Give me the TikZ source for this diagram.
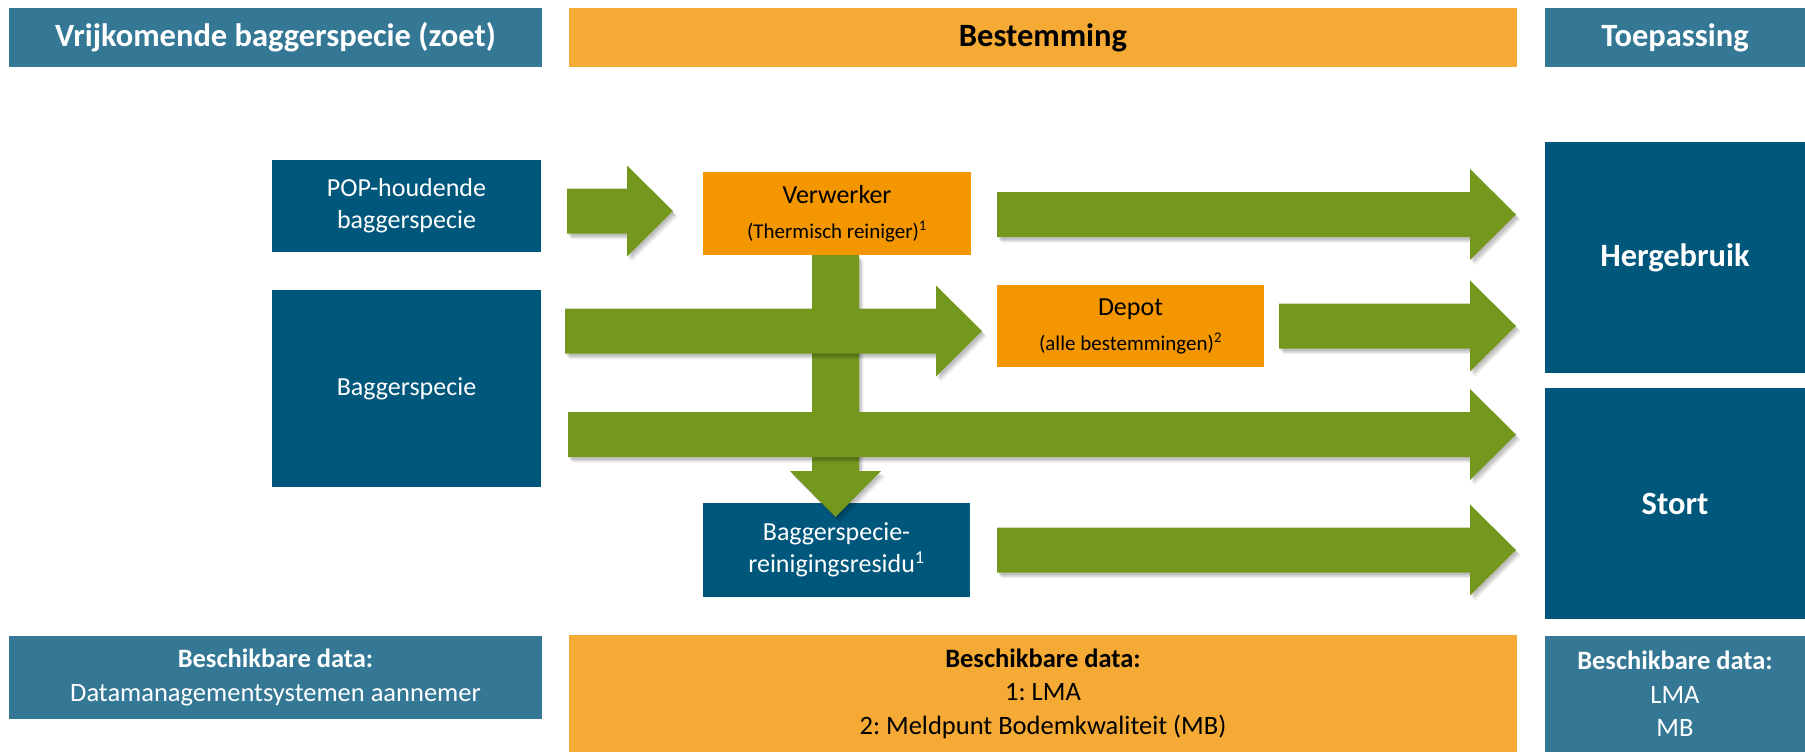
\documentclass[tikz,border=0pt]{standalone}
\usepackage{fontspec}
\setmainfont{Carlito}
\usetikzlibrary{calc,shadows}
\definecolor{hdrblue}{HTML}{347896}
\definecolor{boxblue}{HTML}{00577C}
\definecolor{hdrorange}{HTML}{F4AA34}
\definecolor{boxorange}{HTML}{F39600}
\definecolor{arrgreen}{HTML}{74981E}
\tikzset{
  base/.style={rectangle, inner sep=0pt, align=center},
  hdrblue box/.style={base, fill=hdrblue, text=white},
  hdrorange box/.style={base, fill=hdrorange, text=black},
  blue box/.style={base, fill=boxblue, text=white},
  orange box/.style={base, fill=boxorange, text=black},
  headfont/.style={font=\fontsize{32.5}{38}\selectfont\bfseries},
  bodyfont/.style={font=\fontsize{26}{32}\selectfont},
  datafont/.style={font=\fontsize{26.5}{33.5}\selectfont},
  smallfont/.style={font=\fontsize{21}{35}\selectfont},
  blockarrow/.style={fill=arrgreen,
    drop shadow={shadow xshift=1.5pt, shadow yshift=-2.5pt, opacity=0.10, fill=black},
    drop shadow={shadow xshift=3pt, shadow yshift=-4pt, opacity=0.10, fill=black},
    drop shadow={shadow xshift=4.5pt, shadow yshift=-5.5pt, opacity=0.07, fill=black}},
}
\newcommand\rightblock[2]{%
  \path[blockarrow] let \p1=(#1), \p2=(#2) in
    (\x1,\y1+22.5pt) -- (\x2-46pt,\y1+22.5pt) -- (\x2-46pt,\y1+45.5pt) -- (\x2,\y1)
    -- (\x2-46pt,\y1-45.5pt) -- (\x2-46pt,\y1-22.5pt) -- (\x1,\y1-22.5pt) -- cycle;}
\newcommand\downblock[2]{%
  \path[blockarrow] let \p1=(#1), \p2=(#2) in
    (\x1-23.5pt,\y1) -- (\x1-23.5pt,\y2+46pt) -- (\x1-45.5pt,\y2+46pt) -- (\x1,\y2)
    -- (\x1+45.5pt,\y2+46pt) -- (\x1+23.5pt,\y2+46pt) -- (\x1+23.5pt,\y1) -- cycle;}
\begin{document}
\frenchspacing
\begin{tikzpicture}[x=1pt, y=-1pt]
\useasboundingbox (0,0) rectangle (1805,752);
% headers
\node[hdrblue box, headfont, minimum width=533pt, minimum height=59pt] (hdrL) at (275.5,37.5) {Vrijkomende baggerspecie (zoet)};
\node[hdrorange box, headfont, minimum width=948pt, minimum height=59pt] (hdrM) at (1043,37.5) {Bestemming};
\node[hdrblue box, headfont, minimum width=260pt, minimum height=59pt] (hdrR) at (1675,37.5) {Toepassing};
% sources
\node[blue box, bodyfont, minimum width=269pt, minimum height=92pt] (pop) at (406.5,206) {POP-houdende\\baggerspecie};
\node[blue box, bodyfont, minimum width=269pt, minimum height=197pt] (bag) at (406.5,388.5) {Baggerspecie};
% destinations
\node[orange box, smallfont, minimum width=268pt, minimum height=83pt] (verw) at (837,213.5) {{\fontsize{26}{35}\selectfont Verwerker}\\(Thermisch reiniger)\textsuperscript{1}};
\node[orange box, smallfont, minimum width=267pt, minimum height=82pt] (depot) at (1130.5,326) {{\fontsize{26}{35}\selectfont Depot}\\(alle bestemmingen)\textsuperscript{2}};
\node[blue box, bodyfont, minimum width=267pt, minimum height=94pt] (residu) at (836.5,550) {Baggerspecie-\\reinigingsresidu\textsuperscript{1}};
% applications
\node[blue box, headfont, minimum width=260pt, minimum height=231pt] (herg) at (1675,257.5) {Hergebruik};
\node[blue box, headfont, minimum width=260pt, minimum height=231pt] (stort) at (1675,503.5) {Stort};
% data boxes
\node[hdrblue box, datafont, minimum width=533pt, minimum height=83pt] (botL) at (275.5,677.5) {\textbf{Beschikbare data:}\\Datamanagementsystemen aannemer};
\node[hdrorange box, datafont, minimum width=948pt, minimum height=117pt] (botM) at (1043,693.5) {\textbf{Beschikbare data:}\\1: LMA\\2: Meldpunt Bodemkwaliteit (MB)};
\node[hdrblue box, datafont, minimum width=260pt, minimum height=116pt] (botR) at (1675,694) {\textbf{Beschikbare data:}\\LMA\\MB};
% arrow end points
\coordinate (a1s) at (567,211);
\coordinate (a1e) at (673,211);
\coordinate (a2s) at (997,214.5);
\coordinate (a2e) at (1516,214.5);
\coordinate (a3s) at (565,331);
\coordinate (a3e) at (982,331);
\coordinate (a4s) at (1279,326);
\coordinate (a4e) at (1516,326);
\coordinate (a5s) at (568,434.5);
\coordinate (a5e) at (1516,434.5);
\coordinate (a6s) at (997,550);
\coordinate (a6e) at (1516,550);
\coordinate (vs) at (835.5,255);
\coordinate (ve) at (835.5,517);
% arrows
\downblock{vs}{ve}
\rightblock{a1s}{a1e}
\rightblock{a2s}{a2e}
\rightblock{a3s}{a3e}
\rightblock{a4s}{a4e}
\rightblock{a5s}{a5e}
\rightblock{a6s}{a6e}
\end{tikzpicture}
\end{document}
